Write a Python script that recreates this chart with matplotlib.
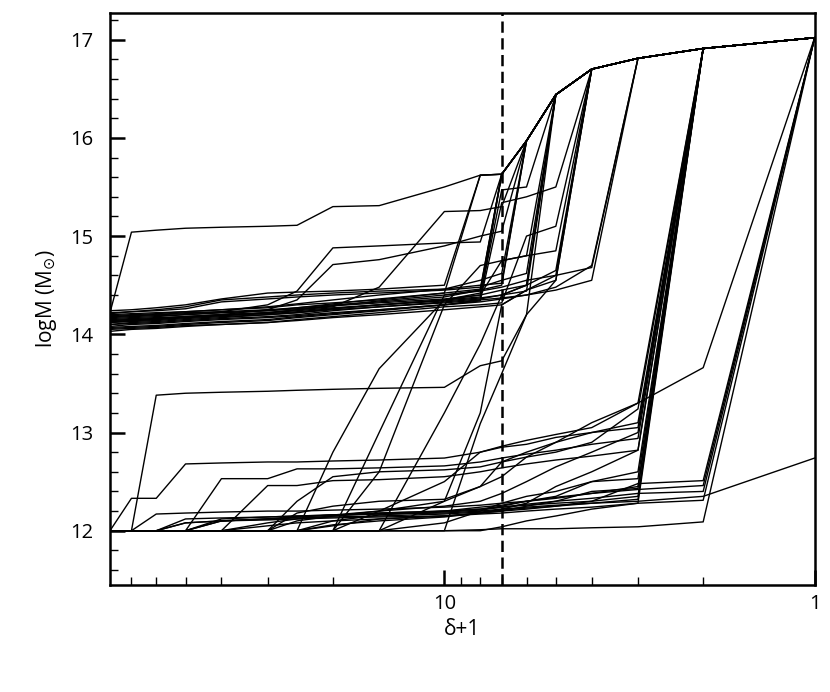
import matplotlib
matplotlib.use("Agg")
import matplotlib.pyplot as plt
from matplotlib.ticker import FixedLocator, NullFormatter

# smoothing scale (delta+1) at which each halo mass was measured
delta1 = [80, 70, 60, 50, 40, 30, 25, 20, 15, 10, 8, 7, 6, 5, 4, 3, 2, 1]

# the most massive halo; every other track merges into it at some scale
main_halo = [14.22, 15.04, 15.06, 15.08, 15.09, 15.10, 15.11, 15.30, 15.31,
             15.50, 15.62, 15.63, 15.97, 16.44, 16.70, 16.81, 16.91, 17.02]

# cluster-scale tracks (logM ~ 14 at large delta); values up to the merger
cluster_tracks = [
    [14.20, 14.21, 14.22, 14.23, 14.25, 14.27, 14.30, 14.32, 14.35, 14.42],
    [14.18, 14.19, 14.20, 14.22, 14.23, 14.25, 14.27, 14.30, 14.33, 14.38, 14.45],
    [14.18, 14.19, 14.20, 14.21, 14.23, 14.30, 14.44, 14.88, 14.90, 14.93, 14.94],
    [14.15, 14.16, 14.17, 14.18, 14.20, 14.25, 14.35, 14.71, 14.76, 14.90, 15.00, 15.05],
    [14.12, 14.14, 14.15, 14.17, 14.19, 14.22, 14.25, 14.28, 14.48, 15.25, 15.26, 15.30],
    [14.22, 14.23, 14.24, 14.26, 14.33, 14.36, 14.38, 14.40, 14.42, 14.45, 14.48, 14.55, 14.62],
    [14.10, 14.12, 14.13, 14.15, 14.17, 14.20, 14.22, 14.26, 14.30, 14.35, 14.38, 15.47, 15.50],
    [14.08, 14.10, 14.11, 14.13, 14.15, 14.17, 14.19, 14.22, 14.25, 14.30, 14.34, 15.34, 15.40, 15.50],
    [14.14, 14.15, 14.16, 14.18, 14.20, 14.22, 14.24, 14.27, 14.30, 14.34, 14.37, 14.40, 14.50, 14.65],
    [14.05, 14.06, 14.07, 14.09, 14.10, 14.12, 14.14, 14.17, 14.20, 14.25, 14.28, 14.30, 14.45, 14.60, 14.68],
    [14.12, 14.13, 14.14, 14.16, 14.18, 14.20, 14.22, 14.25, 14.28, 14.32, 14.35, 14.37, 14.40, 14.45, 14.55],
    [14.17, 14.18, 14.19, 14.20, 14.22, 14.24, 14.26, 14.29, 14.32, 14.36, 14.40, 14.75, 14.80, 14.85],
    [14.03, 14.05, 14.06, 14.08, 14.10, 14.12, 14.15, 14.18, 14.22, 14.28, 14.30, 14.32, 15.00, 15.10],
    [14.16, 14.17, 14.18, 14.20, 14.22, 14.24, 14.27, 14.31, 14.36, 14.42, 14.46],
    [14.13, 14.14, 14.15, 14.17, 14.19, 14.21, 14.23, 14.26, 14.30, 14.35, 14.40, 14.45, 14.50],
    [14.21, 14.23, 14.25, 14.28, 14.35, 14.38, 14.40, 14.42, 14.44, 14.46, 14.50, 14.52],
    [14.10, 14.11, 14.12, 14.14, 14.16, 14.18, 14.20, 14.24, 14.28, 14.33, 14.36, 14.40, 14.44],
    [14.07, 14.08, 14.09, 14.11, 14.13, 14.15, 14.18, 14.21, 14.25, 14.30, 14.33, 14.36, 14.40, 14.48, 14.70],
    [14.19, 14.20, 14.21, 14.23, 14.25, 14.28, 14.31, 14.35, 14.40, 14.46, 14.55, 14.62],
    [14.14, 14.15, 14.16, 14.18, 14.20, 14.22, 14.25, 14.29, 14.34, 14.40, 14.44, 14.48, 14.55, 14.60],
    [14.24, 14.25, 14.27, 14.30, 14.36, 14.42, 14.43, 14.44, 14.46, 14.50],
    [14.06, 14.07, 14.08, 14.10, 14.12, 14.14, 14.17, 14.20, 14.24, 14.30, 14.70, 14.75, 14.80],
]

# galaxy-scale tracks (logM ~ 12 at large delta); values up to the merger
galaxy_tracks = [
    [12.00, 12.33, 12.33, 12.68, 12.69, 12.70, 12.70, 12.71, 12.72, 12.74, 12.80, 12.86, 12.92, 12.98, 13.05, 13.30],
    [12.00, 12.00, 13.38, 13.40, 13.41, 13.42, 13.43, 13.44, 13.45, 13.46, 13.68, 13.73, 14.20, 14.55],
    [12.00, 12.00, 12.17, 12.18, 12.19, 12.20, 12.20, 12.21, 12.22, 12.24, 12.26, 12.28, 12.30, 12.33, 12.38, 12.45],
    [12.00, 12.00, 12.00, 12.00, 12.53, 12.53, 12.63, 12.63, 12.64, 12.66, 12.70, 12.74, 12.78, 12.82, 12.88, 12.94],
    [12.00, 12.00, 12.00, 12.00, 12.12, 12.14, 12.15, 12.16, 12.17, 12.18, 12.20, 12.22, 12.24, 12.26, 12.28, 12.30, 12.35, 12.74],
    [12.00, 12.00, 12.00, 12.00, 12.00, 12.46, 12.46, 12.51, 12.52, 12.55, 12.60, 12.64, 12.68, 12.72, 12.76, 12.82],
    [12.00, 12.00, 12.00, 12.00, 12.00, 12.00, 12.00, 12.80, 13.65, 14.35, 14.42],
    [12.00, 12.00, 12.00, 12.00, 12.00, 12.00, 12.00, 12.00, 13.00, 14.40, 14.45, 14.50],
    [12.00, 12.00, 12.00, 12.00, 12.00, 12.00, 12.00, 12.00, 12.00, 13.20, 13.90, 14.40, 14.50],
    [12.00, 12.00, 12.00, 12.00, 12.00, 12.00, 12.00, 12.00, 12.00, 12.00, 13.09, 13.60, 14.20],
    [12.00, 12.00, 12.00, 12.00, 12.00, 12.00, 12.00, 12.00, 12.60, 14.30, 14.35],
    [12.00, 12.00, 12.00, 12.00, 12.00, 12.00, 12.00, 12.00, 12.00, 12.30, 13.20, 14.30, 14.45, 14.55],
    [12.00, 12.00, 12.00, 12.08, 12.10, 12.12, 12.14, 12.16, 12.18, 12.20, 12.22, 12.24, 12.26, 12.28, 12.30, 12.35],
    [12.00, 12.00, 12.00, 12.00, 12.00, 12.05, 12.08, 12.10, 12.12, 12.15, 12.18, 12.20, 12.25, 12.30, 12.40, 12.43],
    [12.00, 12.00, 12.00, 12.00, 12.00, 12.00, 12.10, 12.15, 12.18, 12.20, 12.22, 12.25, 12.30, 12.35, 12.50, 12.53],
    [12.00, 12.00, 12.00, 12.00, 12.00, 12.00, 12.00, 12.05, 12.12, 12.15, 12.18, 12.22, 12.28, 12.45, 12.60, 12.82],
    [12.00, 12.00, 12.00, 12.08, 12.10, 12.11, 12.12, 12.13, 12.14, 12.15, 12.17, 12.18, 12.20, 12.22, 12.24, 12.28, 12.31],
    [12.00, 12.00, 12.00, 12.00, 12.10, 12.12, 12.13, 12.14, 12.15, 12.17, 12.19, 12.21, 12.23, 12.25, 12.30, 12.48, 12.51],
    [12.00, 12.00, 12.00, 12.12, 12.13, 12.14, 12.15, 12.16, 12.17, 12.19, 12.21, 12.24, 12.27, 12.30, 12.33, 12.38, 12.40],
    [12.00, 12.00, 12.00, 12.00, 12.00, 12.00, 12.00, 12.00, 12.00, 12.00, 12.01, 12.02, 12.02, 12.02, 12.03, 12.04, 12.09],
    [12.00, 12.00, 12.00, 12.00, 12.00, 12.00, 12.30, 12.55, 12.60, 12.62, 12.65, 12.70, 12.80, 12.90, 13.00, 13.10],
    [12.00, 12.00, 12.00, 12.00, 12.00, 12.00, 12.18, 12.25, 12.30, 12.32, 12.45, 12.70, 12.75, 12.80, 12.90, 13.24],
    [12.00, 12.00, 12.00, 12.00, 12.10, 12.12, 12.14, 12.16, 12.20, 12.30, 12.45, 12.55, 12.75, 12.90, 13.10, 13.30, 13.66],
    [12.00, 12.00, 12.00, 12.00, 12.00, 12.00, 12.00, 12.00, 12.20, 12.50, 12.80, 12.85, 12.88, 12.95, 13.00, 13.05],
    [12.00, 12.00, 12.00, 12.00, 12.00, 12.00, 12.00, 12.00, 12.00, 12.08, 12.20, 12.28, 12.35, 12.40, 12.50, 12.60],
    [12.00, 12.00, 12.00, 12.00, 12.00, 12.00, 12.00, 12.00, 12.00, 12.00, 12.00, 12.04, 12.10, 12.15, 12.22, 12.28],
    [12.00, 12.00, 12.00, 12.00, 12.00, 12.00, 12.00, 12.06, 12.10, 12.14, 12.18, 12.20, 12.22, 12.25, 12.28, 12.32],
    [12.00, 12.00, 12.00, 12.00, 12.00, 12.08, 12.12, 12.15, 12.20, 12.25, 12.30, 12.38, 12.50, 12.65, 12.80, 13.00],
    [12.00, 12.00, 12.00, 12.00, 12.00, 12.00, 12.00, 12.10, 12.16, 12.20, 12.24, 12.26, 12.30, 12.34, 12.38, 12.42, 12.46],
]

delta_cut = 7  # dashed vertical line

fig = plt.figure(figsize=(8.3, 6.92), dpi=100)
ax = fig.add_axes([0.1325, 0.155, 0.849, 0.826])

ax.plot(delta1, main_halo, color='black', lw=1.0)
for pre in cluster_tracks + galaxy_tracks:
    ys = pre + main_halo[len(pre):]
    ax.plot(delta1, ys, color='black', lw=1.0)

ax.axvline(delta_cut, color='black', lw=1.8, linestyle=(0, (4.5, 2.2)))

ax.set_xscale('log')
ax.set_xlim(80, 1)
ax.set_ylim(11.45, 17.27)

ax.xaxis.set_major_locator(FixedLocator([1, 10]))
ax.xaxis.set_minor_locator(FixedLocator([2, 3, 4, 5, 6, 7, 8, 9, 20, 30, 40, 50, 60, 70]))
ax.set_xticklabels(['1', '10'])
ax.xaxis.set_minor_formatter(NullFormatter())
ax.yaxis.set_major_locator(FixedLocator([12, 13, 14, 15, 16, 17]))
ax.yaxis.set_minor_locator(FixedLocator([11.6, 11.8, 12.2, 12.4, 12.6, 12.8, 13.2, 13.4, 13.6,
                                         13.8, 14.2, 14.4, 14.6, 14.8, 15.2, 15.4, 15.6, 15.8,
                                         16.2, 16.4, 16.6, 16.8, 17.2]))

ax.tick_params(which='both', direction='in', top=False, right=False, labelsize=14.5)
ax.tick_params(axis='y', pad=12)
ax.tick_params(axis='x', pad=7)
ax.tick_params(which='major', length=11, width=1.8)
ax.tick_params(which='minor', length=6, width=1.0)
for lab in ax.get_xticklabels() + ax.get_yticklabels():
    lab.set_family('Open Sans')
for s in ax.spines.values():
    s.set_linewidth(1.8)

ax.set_xlabel('δ+1', fontsize=15, labelpad=3, family='Open Sans')
ax.set_ylabel(r'logM (M$_{\odot}$)', fontsize=15, labelpad=8, family='Open Sans')

fig.savefig('out.png', dpi=100)
